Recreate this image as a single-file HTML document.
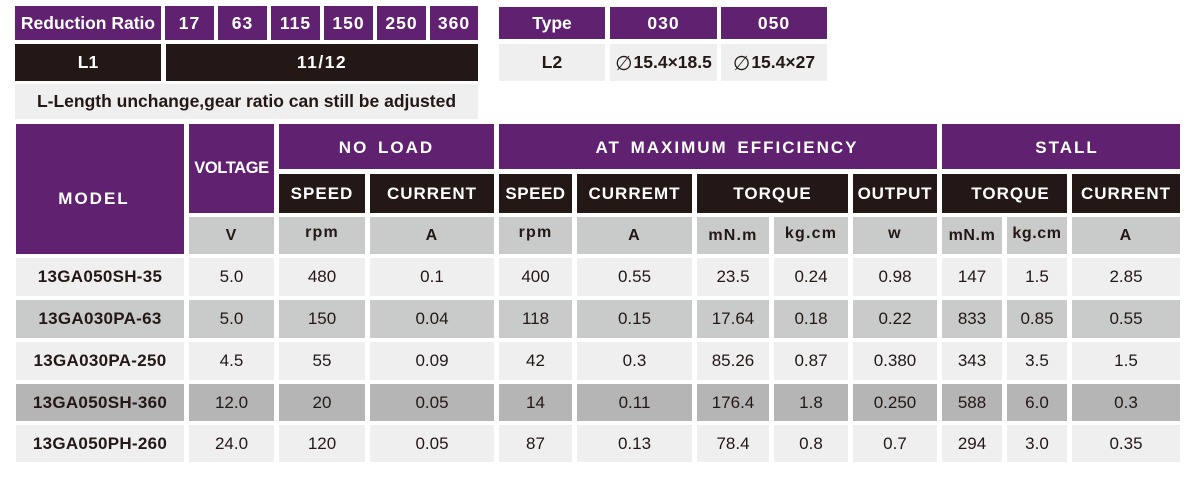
<!DOCTYPE html>
<html><head><meta charset="utf-8">
<style>
*{margin:0;padding:0;box-sizing:border-box}
html,body{width:1200px;height:478px;background:#fff;overflow:hidden}
body{position:relative;font-family:"Liberation Sans",Arial,sans-serif}
.c{position:absolute;display:flex;align-items:center;justify-content:center;white-space:nowrap;color:#231815;font-size:17px}
.p{background:#5f2170;color:#fff;font-weight:bold}
.k{background:#231815;color:#fff;font-weight:bold}
.l{background:#efefef}
.g{background:#c9caca}
.d{background:#b5b5b5}
.b{font-weight:bold}
.t{font-size:17.5px;font-weight:bold}
.h1{letter-spacing:2px;word-spacing:3px;font-size:17px}
.h2{letter-spacing:1px;font-size:17px}
.u{font-weight:bold;font-size:16px;letter-spacing:1.2px}
.m{font-weight:bold;letter-spacing:0.3px}
.o{font-family:'DejaVu Sans',sans-serif;font-weight:normal;font-size:20px;margin-right:1px;line-height:1}
.x0{left:16px;width:168px}.x1{left:189px;width:85px}.x2{left:279px;width:86px}.x3{left:370px;width:124px}
.x4{left:499px;width:73px}.x5{left:577px;width:115px}.x6{left:697px;width:72px}.x7{left:774px;width:74px}
.x8{left:853px;width:84px}.x9{left:942px;width:60px}.x10{left:1007px;width:60px}.x11{left:1072px;width:108px}
.y1{top:258px;height:38px}.y2{top:300px;height:38px}.y3{top:342px;height:38px}.y4{top:384px;height:37px}.y5{top:425px;height:37px}
.yh{top:174px;height:39px}.yu{top:217px;height:37px}
</style></head><body>

<!-- top-left table -->
<div class="c p t" style="left:15px;top:6px;width:146px;height:34px">Reduction Ratio</div>
<div class="c p t" style="left:165px;top:6px;width:49px;height:34px;letter-spacing:1px">17</div>
<div class="c p t" style="left:218px;top:6px;width:49px;height:34px;letter-spacing:1px">63</div>
<div class="c p t" style="left:271px;top:6px;width:49px;height:34px;letter-spacing:1px">115</div>
<div class="c p t" style="left:324px;top:6px;width:49px;height:34px;letter-spacing:1px">150</div>
<div class="c p t" style="left:377px;top:6px;width:49px;height:34px;letter-spacing:1px">250</div>
<div class="c p t" style="left:430px;top:6px;width:48px;height:34px;letter-spacing:1px">360</div>
<div class="c k t" style="left:15px;top:44px;width:146px;height:37px">L1</div>
<div class="c k t" style="left:166px;top:44px;width:312px;height:37px;letter-spacing:1.5px">11/12</div>
<div class="c l t" style="left:15px;top:84px;width:463px;height:35px">L-Length unchange,gear ratio can still be adjusted</div>

<!-- top-right table -->
<div class="c p t" style="left:499px;top:7px;width:106px;height:32px">Type</div>
<div class="c p t" style="left:610px;top:7px;width:107px;height:32px;letter-spacing:1px">030</div>
<div class="c p t" style="left:721px;top:7px;width:106px;height:32px;letter-spacing:1px">050</div>
<div class="c l t" style="left:499px;top:44px;width:106px;height:37px">L2</div>
<div class="c l t" style="left:610px;top:44px;width:107px;height:37px"><span class="o">∅</span>15.4×18.5</div>
<div class="c l t" style="left:721px;top:44px;width:106px;height:37px"><span class="o">∅</span>15.4×27</div>

<!-- main table headers -->
<div class="c p h1 x0" style="top:124px;height:130px;padding-top:20px;padding-right:12px">MODEL</div>
<div class="c p x1" style="top:124px;height:89px;font-size:16.5px;letter-spacing:-0.4px">VOLTAGE</div>
<div class="c p h1" style="left:279px;top:124px;width:215px;height:45px;padding-top:2px">NO LOAD</div>
<div class="c p h1" style="left:499px;top:124px;width:438px;height:45px;padding-top:2px;padding-left:18px">AT MAXIMUM EFFICIENCY</div>
<div class="c p h1" style="left:942px;top:124px;width:238px;height:45px;padding-left:12px;padding-top:2px">STALL</div>

<div class="c k h2 x2 yh">SPEED</div>
<div class="c k h2 x3 yh">CURRENT</div>
<div class="c k h2 x4 yh" style="letter-spacing:0.5px">SPEED</div>
<div class="c k h2 x5 yh">CURREMT</div>
<div class="c k h2 yh" style="left:697px;width:151px">TORQUE</div>
<div class="c k h2 x8 yh" style="letter-spacing:0.8px">OUTPUT</div>
<div class="c k h2 yh" style="left:942px;width:125px;padding-left:12px">TORQUE</div>
<div class="c k h2 x11 yh">CURRENT</div>

<div class="c g u x1 yu">V</div>
<div class="c g u x2 yu" style="padding-bottom:6px">rpm</div>
<div class="c g u x3 yu">A</div>
<div class="c g u x4 yu" style="padding-bottom:6px">rpm</div>
<div class="c g u x5 yu">A</div>
<div class="c g u x6 yu">mN.m</div>
<div class="c g u x7 yu" style="padding-bottom:3px">kg.cm</div>
<div class="c g u x8 yu" style="padding-bottom:3px">w</div>
<div class="c g u x9 yu" style="letter-spacing:0.6px">mN.m</div>
<div class="c g u x10 yu" style="letter-spacing:0.6px;padding-bottom:3px">kg.cm</div>
<div class="c g u x11 yu">A</div>

<!-- row 1 -->
<div class="c l m x0 y1">13GA050SH-35</div>
<div class="c l x1 y1">5.0</div><div class="c l x2 y1">480</div><div class="c l x3 y1">0.1</div>
<div class="c l x4 y1">400</div><div class="c l x5 y1">0.55</div><div class="c l x6 y1">23.5</div>
<div class="c l x7 y1">0.24</div><div class="c l x8 y1">0.98</div><div class="c l x9 y1">147</div>
<div class="c l x10 y1">1.5</div><div class="c l x11 y1">2.85</div>

<!-- row 2 -->
<div class="c g m x0 y2">13GA030PA-63</div>
<div class="c g x1 y2">5.0</div><div class="c g x2 y2">150</div><div class="c g x3 y2">0.04</div>
<div class="c g x4 y2">118</div><div class="c g x5 y2">0.15</div><div class="c g x6 y2">17.64</div>
<div class="c g x7 y2">0.18</div><div class="c g x8 y2">0.22</div><div class="c g x9 y2">833</div>
<div class="c g x10 y2">0.85</div><div class="c g x11 y2">0.55</div>

<!-- row 3 -->
<div class="c l m x0 y3">13GA030PA-250</div>
<div class="c l x1 y3">4.5</div><div class="c l x2 y3">55</div><div class="c l x3 y3">0.09</div>
<div class="c l x4 y3">42</div><div class="c l x5 y3">0.3</div><div class="c l x6 y3">85.26</div>
<div class="c l x7 y3">0.87</div><div class="c l x8 y3">0.380</div><div class="c l x9 y3">343</div>
<div class="c l x10 y3">3.5</div><div class="c l x11 y3">1.5</div>

<!-- row 4 -->
<div class="c d m x0 y4">13GA050SH-360</div>
<div class="c d x1 y4">12.0</div><div class="c d x2 y4">20</div><div class="c d x3 y4">0.05</div>
<div class="c d x4 y4">14</div><div class="c d x5 y4">0.11</div><div class="c d x6 y4">176.4</div>
<div class="c d x7 y4">1.8</div><div class="c d x8 y4">0.250</div><div class="c d x9 y4">588</div>
<div class="c d x10 y4">6.0</div><div class="c d x11 y4">0.3</div>

<!-- row 5 -->
<div class="c l m x0 y5">13GA050PH-260</div>
<div class="c l x1 y5">24.0</div><div class="c l x2 y5">120</div><div class="c l x3 y5">0.05</div>
<div class="c l x4 y5">87</div><div class="c l x5 y5">0.13</div><div class="c l x6 y5">78.4</div>
<div class="c l x7 y5">0.8</div><div class="c l x8 y5">0.7</div><div class="c l x9 y5">294</div>
<div class="c l x10 y5">3.0</div><div class="c l x11 y5">0.35</div>

</body></html>
